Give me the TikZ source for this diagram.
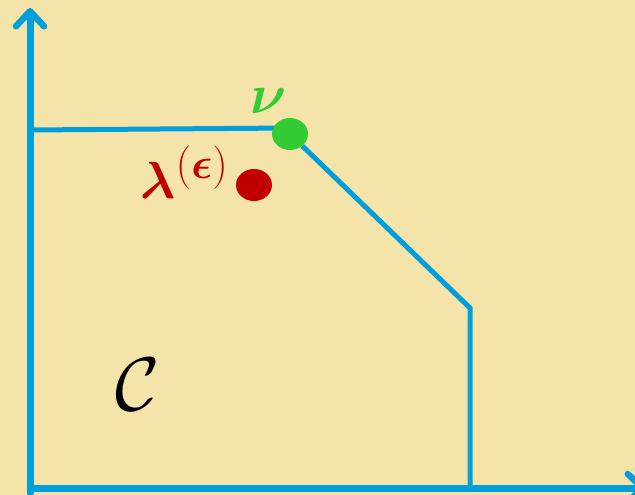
\documentclass[tikz,border=0pt]{standalone}
\usepackage{amsmath}
\usepackage{graphicx}
\usetikzlibrary{calc, arrows.meta, shapes.geometric}
\definecolor{bgcream}{RGB}{245,228,170}
\definecolor{axisblue}{RGB}{0,158,219}
\definecolor{nugreen}{RGB}{52,204,52}
\definecolor{lamred}{RGB}{192,0,0}

\begin{document}
\begin{tikzpicture}[x=1pt, y=-1pt,
  axis/.style={axisblue, line width=7pt,
    -{Straight Barb[length=15pt, width=28pt, line width=6.5pt, round]}},
  edge/.style={axisblue, line width=5pt},
  dot/.style={ellipse, minimum width=36pt, minimum height=32pt, inner sep=0pt},
  big/.style={font=\Huge}]
  \fill[bgcream] (0,0) rectangle (635,495);
  \clip (0,0) rectangle (635,495);
  \coordinate (O) at (30,488);
  % 坐标轴
  \coordinate (Y) at (30,8);
  \coordinate (X) at (646,488);
  % 多面体 C 的边界
  \coordinate (P) at (30,130);
  \coordinate (Q) at (470,308);
  \coordinate (R) at (470,488);

  \draw[edge] (P) -- (290,128);
  \node[dot, fill=nugreen] (nu) at (290,134) {};
  \node[dot, fill=lamred] (lam) at (254,185) {};
  \draw[edge] (nu) -- (Q) -- (R);
  \draw[axis, line cap=round] ($(O)+(0,5)$) -- (Y);
  \draw[axis] ($(O)+(-3.5,0)$) -- (X);

  \node[big, nugreen] (nulabel) at (269,101) {\scalebox{2.25}{$\boldsymbol{\nu}$}};
  \node[big, lamred, anchor=base east, inner sep=0pt]
    (lamlabel) at (229,198) {\scalebox{2.1}{$\boldsymbol{\lambda}^{(\boldsymbol{\epsilon})}$}};
  \node[big] (C) at (138,385) {\scalebox{3.05}{$\mathcal{C}$}};
\end{tikzpicture}
\end{document}
